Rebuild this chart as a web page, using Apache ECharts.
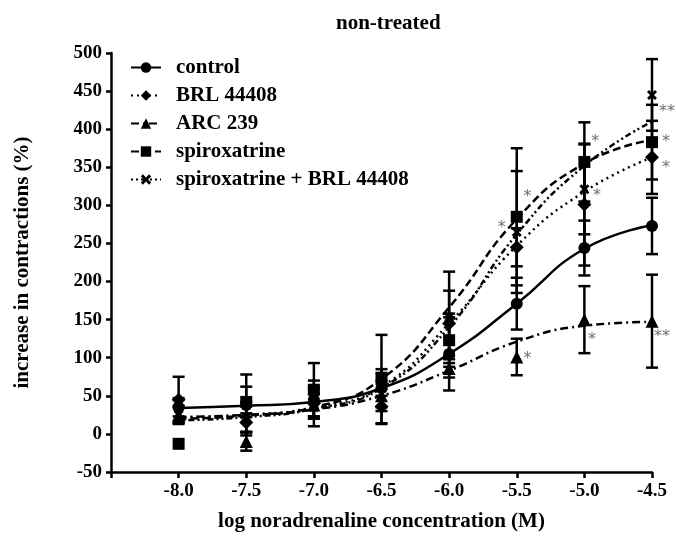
<!DOCTYPE html>
<html>
<head>
<meta charset="utf-8">
<script src="https://cdn.jsdelivr.net/npm/echarts@6/dist/echarts.min.js"></script>
<style>html,body{margin:0;padding:0;background:#fff}#c{width:676px;height:537px}</style>
</head>
<body>
<div id="c"></div>
<script>
// ---- data ----
const logConc = [-8.0, -7.5, -7.0, -6.5, -6.0, -5.5, -5.0, -4.5];
const xTickLabels = ['-8.0', '-7.5', '-7.0', '-6.5', '-6.0', '-5.5', '-5.0', '-4.5'];

const controlMean = [35, 38, 45, 60, 105, 171, 244, 273];
const controlSem  = [12, 40, 25, 25, 48, 34, 36, 37];
const brlMean     = [45, 15, 40, 36, 145, 245, 301, 363];
const brlSem      = [30, 12, 20, 23, 43, 25, 80, 48];
const arcMean     = [25, -10, 38, 50, 86, 101, 150, 148];
const arcSem      = [10, 12, 15, 20, 12, 24, 44, 61];
const spiroMean   = [-13, 42, 58, 72, 123, 285, 357, 383];
const spiroSem    = [0, 20, 35, 58, 35, 90, 52, 49];
const comboMean   = [25, 22, 35, 65, 153, 265, 321, 445];
const comboSem    = [12, 20, 25, 15, 60, 80, 59, 47];

// fitted curves at each concentration
const controlFit = [34, 37, 42, 60, 105, 171, 243, 274];
const brlFit     = [22, 25, 35, 62, 145, 247, 318, 363];
const arcFit     = [22, 25, 32, 50, 83, 121, 142, 147];
const spiroFit   = [20, 24, 35, 72, 166, 282, 355, 386];
const comboFit   = [18, 22, 33, 60, 140, 262, 352, 410];

// significance marks
const starX    = [-5.42, -5.61, -5.42, -4.92, -4.906, -4.943, -4.389, -4.397, -4.397, -4.426];
const starY    = [311, 270, 98, 383, 312, 123, 423, 383, 349, 127];
const starText = ['*', '*', '*', '*', '*', '*', '**', '*', '*', '**'];

const seriesNames = ['control', 'BRL 44408', 'ARC 239', 'spiroxatrine', 'spiroxatrine + BRL 44408'];
// ---------------------------------------

const crossPath = 'path://M2,0 L5,3 L8,0 L10,2 L7,5 L10,8 L8,10 L5,7 L2,10 L0,8 L3,5 L0,2 Z';
const styles = [
  {symbol: 'circle', size: 12, dash: 'solid'},
  {symbol: 'diamond', size: 14, dash: [2, 4]},
  {symbol: 'triangle', size: 13, dash: [8, 4, 2, 4]},
  {symbol: 'rect', size: 12, dash: [8, 4]},
  {symbol: crossPath, size: 10, dash: [2, 3, 2, 3, 6, 3]}
];
const means = [controlMean, brlMean, arcMean, spiroMean, comboMean];
const sems = [controlSem, brlSem, arcSem, spiroSem, comboSem];
const fits = [controlFit, brlFit, arcFit, spiroFit, comboFit];

const font = 'Liberation Serif, Times New Roman, serif';
const series = [];

// fit curves (carry legend)
seriesNames.forEach((n, i) => {
  series.push({
    name: n, type: 'line', smooth: 0.5,
    symbol: styles[i].symbol, symbolSize: styles[i].size, showSymbol: false,
    data: logConc.map((x, k) => [x, fits[i][k]]),
    lineStyle: {color: '#000', width: 2.5, type: styles[i].dash},
    itemStyle: {color: '#000'},
    z: 2, silent: true
  });
});

// error bars
seriesNames.forEach((n, i) => {
  series.push({
    name: n + ' sem', type: 'custom',
    data: logConc.map((x, k) => [x, means[i][k] - sems[i][k], means[i][k] + sems[i][k]]),
    encode: {x: 0, y: [1, 2]},
    renderItem: function (params, api) {
      const x = api.value(0), lo = api.value(1), hi = api.value(2);
      if (hi - lo <= 0) return null;
      const a = api.coord([x, lo]), b = api.coord([x, hi]);
      const w = 6;
      const st = {stroke: '#000', lineWidth: 2.5};
      return {type: 'group', children: [
        {type: 'line', shape: {x1: a[0], y1: a[1], x2: b[0], y2: b[1]}, style: st},
        {type: 'line', shape: {x1: a[0] - w, y1: a[1], x2: a[0] + w, y2: a[1]}, style: st},
        {type: 'line', shape: {x1: b[0] - w, y1: b[1], x2: b[0] + w, y2: b[1]}, style: st}
      ]};
    },
    z: 3, silent: true
  });
});

// markers
seriesNames.forEach((n, i) => {
  series.push({
    name: n + ' pts', type: 'scatter',
    symbol: styles[i].symbol, symbolSize: styles[i].size,
    data: logConc.map((x, k) => [x, means[i][k]]),
    itemStyle: {color: '#000', opacity: 1},
    z: 4, silent: true
  });
});

// stars
series.push({
  name: 'stars', type: 'scatter', clip: false, symbol: 'circle', symbolSize: 0.1,
  itemStyle: {color: 'rgba(0,0,0,0)'},
  data: starX.map((x, k) => ({value: [x, starY[k]], name: starText[k]})),
  label: {show: true, position: 'inside', formatter: p => p.name,
    color: '#4a4a4a', fontFamily: 'DejaVu Sans, sans-serif', fontSize: 16},
  z: 5, silent: true
});

const chart = echarts.init(document.getElementById('c'), null, {renderer: 'canvas'});
chart.setOption({
  animation: false,
  backgroundColor: '#fff',
  title: {text: 'non-treated', left: 331, top: 8,
    textStyle: {fontFamily: font, fontWeight: 'bold', fontSize: 21, color: '#000'}},
  legend: {
    data: seriesNames, orient: 'vertical', left: 125, top: 52,
    itemWidth: 30, itemHeight: 13, itemGap: 7,
    textStyle: {fontFamily: font, fontWeight: 'bold', fontSize: 21, color: '#000', padding: [0, 0, 0, 10]}
  },
  grid: {left: 111, right: 24, top: 53, bottom: 65, containLabel: false},
  xAxis: {
    type: 'value', min: -8.5, max: -4.5, interval: 0.5,
    name: 'log noradrenaline concentration (M)', nameLocation: 'middle', nameGap: 39,
    nameTextStyle: {fontFamily: font, fontWeight: 'bold', fontSize: 21, color: '#000'},
    axisLine: {onZero: false, lineStyle: {color: '#000', width: 2.5}},
    axisTick: {lineStyle: {color: '#000', width: 2.5}, length: 6},
    splitLine: {show: false},
    axisLabel: {fontFamily: font, fontWeight: 'bold', fontSize: 19, color: '#000', margin: 10,
      formatter: v => { const i = logConc.findIndex(x => Math.abs(x - v) < 1e-6); return i >= 0 ? xTickLabels[i] : ''; }}
  },
  yAxis: {
    type: 'value', min: -50, max: 500, interval: 50,
    name: 'increase in contractions (%)', nameLocation: 'middle', nameGap: 78,
    nameTextStyle: {fontFamily: font, fontWeight: 'bold', fontSize: 21, color: '#000'},
    axisLine: {show: true, onZero: false, lineStyle: {color: '#000', width: 2.5}},
    axisTick: {show: true, lineStyle: {color: '#000', width: 2.5}, length: 5},
    splitLine: {show: false},
    axisLabel: {fontFamily: font, fontWeight: 'bold', fontSize: 19, color: '#000', margin: 9}
  },
  series: series
});
</script>
</body>
</html>
